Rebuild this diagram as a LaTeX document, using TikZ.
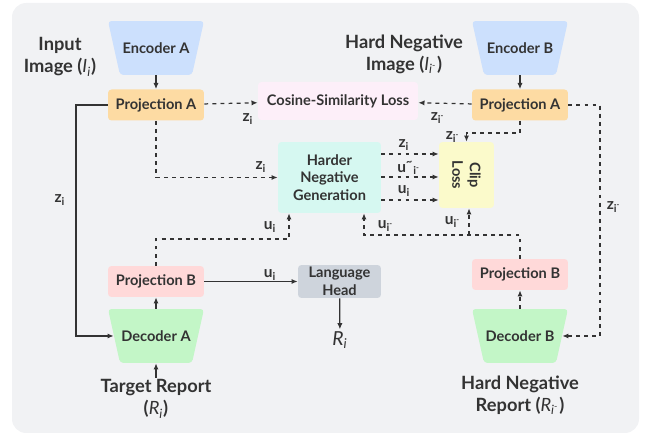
\documentclass[tikz,border=0pt]{standalone}
\usepackage{fontspec}
\setmainfont{Lato}
\usepackage{tikz}
\usetikzlibrary{arrows.meta,positioning,calc,shapes.geometric}

\definecolor{bgcol}{HTML}{F1F2F4}
\definecolor{inkcol}{HTML}{333333}
\definecolor{enccol}{HTML}{CCE0FD}
\definecolor{projacol}{HTML}{FDDBA3}
\definecolor{projbcol}{HTML}{FFD9D9}
\definecolor{deccol}{HTML}{C3F6C7}
\definecolor{coscol}{HTML}{FDEFF9}
\definecolor{hngcol}{HTML}{D6F8F1}
\definecolor{clipcol}{HTML}{FBFACB}
\definecolor{langcol}{HTML}{CED4DC}

\newcommand{\zvec}{\textbf{z}\textsubscript{i}}
\newcommand{\zneg}{\textbf{z}\textsubscript{i\textsuperscript{-}}}
\newcommand{\uvec}{\textbf{u}\textsubscript{i}}
\newcommand{\uneg}{\textbf{u}\textsubscript{i\textsuperscript{-}}}

\tikzset{
  box/.style={rounded corners=2pt, font=\fontsize{8.3}{10}\selectfont\bfseries, text=inkcol, align=center, inner sep=0pt},
  coder/.style={minimum width=1.92cm, minimum height=1.08cm, inner sep=0pt,
    font=\fontsize{8.3}{10}\selectfont\bfseries, text=inkcol,
    path picture={\fill[#1, rounded corners=2pt] (path picture bounding box.north west)
      -- (path picture bounding box.north east) -- ([xshift=-0.24cm]path picture bounding box.south east)
      -- ([xshift=0.24cm]path picture bounding box.south west) -- cycle;}},
  title/.style={font=\fontsize{10.4}{12.5}\selectfont\bfseries, text=inkcol, align=center},
  lbl/.style={font=\fontsize{8.8}{10}\selectfont\bfseries, text=inkcol, inner sep=0pt},
  conn/.style={inkcol, line width=0.7pt, -{Latex[length=3.5pt,width=3pt]}},
  dsh/.style={conn, dash pattern=on 2.2pt off 2.4pt},
}

\begin{document}
\begin{tikzpicture}[x=0.02cm, y=-0.02cm]
\useasboundingbox (0,0) rectangle (646,435);
\fill[bgcol, rounded corners=8pt] (12,3) rectangle (639,433);

% encoders, projections and losses
\node[coder=enccol] (encA) at (156,48) {Encoder A};
\node[coder=enccol] (encB) at (520,48) {Encoder B};
\node[box, fill=projacol, minimum width=1.92cm, minimum height=0.62cm] (projAl) at (156,105) {Projection A};
\node[box, fill=projacol, minimum width=1.92cm, minimum height=0.62cm] (projAr) at (520,105) {Projection A};
\node[box, fill=coscol, minimum width=3.2cm, minimum height=0.76cm] (cos) at (338,101) {Cosine-Similarity Loss};
\node[box, fill=hngcol, minimum width=2.06cm, minimum height=1.42cm] (hng) at (329.5,177.5) {Harder\\Negative\\Generation};
\node[box, fill=clipcol, minimum width=1.1cm, minimum height=1.32cm] (clip) at (466.5,175) {};
\node[box, rotate=-90] (cliptxt) at (clip.center) {Clip\\Loss};

% report side
\node[box, fill=projbcol, minimum width=1.92cm, minimum height=0.62cm] (projBl) at (156,281.5) {Projection B};
\node[box, fill=projbcol, minimum width=1.92cm, minimum height=0.62cm] (projBr) at (520,274.5) {Projection B};
\node[coder=deccol] (decA) at (156,336) {Decoder A};
\node[coder=deccol] (decB) at (520,336) {Decoder B};
\node[box, fill=langcol, minimum width=1.66cm, minimum height=0.66cm] (lang) at (339.5,281.5) {Language\\Head};
\node[font=\fontsize{11}{12}\selectfont\itshape, text=inkcol, inner sep=1pt] (Rout) at (340,340) {R\textsubscript{i}};

% titles
\node[title] (inimg) at (60,57) {Input\\Image (\textmd{\textit{I}\textsubscript{\textit{i}}})};
\node[title] (hnimg) at (404,54) {Hard Negative\\Image (\textmd{\textit{I}\textsubscript{\textit{i}\textsuperscript{-}}})};
\node[title, inner sep=1pt] (tgt) at (156,399) {Target Report\\(\textmd{\textit{R}\textsubscript{\textit{i}}})};
\node[title] (hnrep) at (520,395) {Hard Negative\\Report (\textmd{\textit{R}\textsubscript{\textit{i}\textsuperscript{-}}})};

% helper points
\coordinate (zl) at (76,105);
\coordinate (zc) at (520,133);
\coordinate (zr) at (600,105);
\coordinate (ul) at (289,239);
\coordinate (ur) at (364,235);
\coordinate (cl) at (469,235);

% solid connectors
\draw[conn] (encA) -- (projAl);
\draw[conn] (encB) -- (projAr);
\draw[conn] (projAl.west) -- (zl) |- ([xshift=0.12cm]decA.west);
\draw[conn] (decA) -- (projBl);
\draw[conn] (tgt) -- (decA);
\draw[conn] (projBl) -- (lang);
\draw[conn] (lang) -- (Rout);

% dashed connectors
\draw[dsh] (projAl) -- (cos);
\draw[dsh] (projAr) -- (cos);
\draw[dsh] (projAl.south) |- (hng.west);
\draw[dsh] (projAr.south) -- (zc) -| (clip.north);
\draw[dsh] (projAr.east) -- (zr) |- ([xshift=-0.12cm]decB.east);
\foreach \yy in {154,177,200}
  \draw[dsh] (hng.east |- 0,\yy) -- (clip.west |- 0,\yy);
\draw[dsh] (projBl.north) |- (ul) -- (hng.south -| ul);
\draw[dsh] (decB) -- (projBr);
\draw[dsh] (projBr.north) |- (ur) -- (hng.south -| ur);
\draw[dsh] (cl) -- (clip.south -| cl);

% connector labels
\node[lbl] (l1) at (248,119) {\zvec};
\node[lbl] (l2) at (261,167) {\zvec};
\node[lbl] (l3) at (60,200) {\zvec};
\node[lbl] (l4) at (438,118) {\zneg};
\node[lbl] (l5) at (453,137) {\zneg};
\node[lbl] (l6) at (614,207) {\zneg};
\node[lbl] (l7) at (404,145) {\zvec};
\node[lbl] (l8) at (409,168) {\textbf{u}\textsuperscript{\textasciitilde}\textsubscript{i\textsuperscript{-}}};
\node[lbl] (l9) at (404,191) {\uvec};
\node[lbl] (l10) at (270,227) {\uvec};
\node[lbl] (l11) at (386,226) {\uneg};
\node[lbl] (l12) at (453,222) {\uneg};
\node[lbl] (l13) at (270,275) {\uvec};
\end{tikzpicture}
\end{document}
